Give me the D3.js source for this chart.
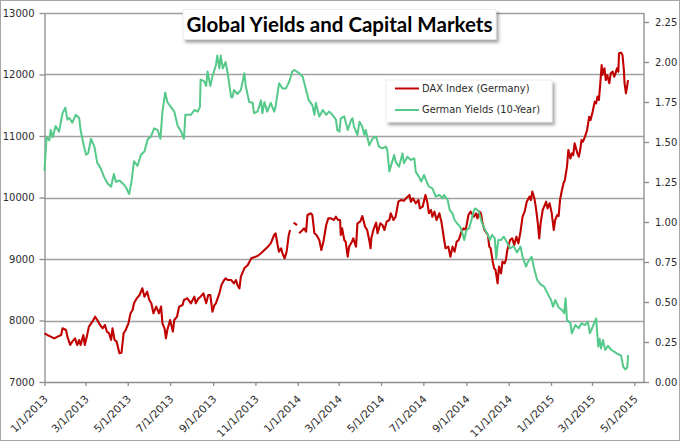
<!DOCTYPE html>
<html><head><meta charset="utf-8">
<script src="https://cdn.jsdelivr.net/npm/d3@7"></script>
<style>body{margin:0;background:#fff}svg{display:block}</style>
</head><body><svg id="c" width="680" height="441"></svg>
<script>
const titleText = "Global Yields and Capital Markets";
const seriesNames = ["DAX Index (Germany)", "German Yields (10-Year)"];
const leftTicks = [7000, 8000, 9000, 10000, 11000, 12000, 13000];
const rightTicks = [0, 0.25, 0.5, 0.75, 1.0, 1.25, 1.5, 1.75, 2.0, 2.25];
const xTickLabels = ["1/1/2013","3/1/2013","5/1/2013","7/1/2013","9/1/2013","11/1/2013","1/1/2014","3/1/2014","5/1/2014","7/1/2014","9/1/2014","11/1/2014","1/1/2015","3/1/2015","5/1/2015"];
const xDomain = ["2013-01-01", "2015-05-15"];

const daxSeries = [
["2013-01-01",7790],["2013-01-05",7765],["2013-01-10",7738],["2013-01-15",7710],["2013-01-20",7738],["2013-01-25",7765],["2013-01-27",7873],["2013-02-01",7846],["2013-02-03",7738],["2013-02-07",7602],["2013-02-10",7656],["2013-02-14",7710],["2013-02-17",7602],["2013-02-20",7683],["2013-02-22",7602],["2013-02-26",7765],["2013-02-28",7602],
["2013-03-03",7738],["2013-03-06",7900],["2013-03-11",7981],["2013-03-15",8062],["2013-03-18",8008],["2013-03-22",7927],["2013-03-26",7873],["2013-03-29",7927],["2013-04-01",7819],["2013-04-04",7792],["2013-04-07",7683],["2013-04-09",7873],["2013-04-12",7683],["2013-04-15",7656],["2013-04-19",7466],["2013-04-22",7477],["2013-04-25",7792],["2013-04-28",7846],
["2013-05-02",7954],["2013-05-05",8117],["2013-05-08",8171],["2013-05-10",8280],["2013-05-14",8361],["2013-05-18",8415],["2013-05-22",8523],["2013-05-25",8388],["2013-05-29",8469],["2013-06-01",8334],["2013-06-04",8280],["2013-06-07",8117],["2013-06-11",8226],["2013-06-15",8117],["2013-06-18",8226],["2013-06-20",7954],["2013-06-23",7873],["2013-06-25",7710],["2013-06-27",7846],
["2013-07-01",8008],["2013-07-05",7819],["2013-07-07",8008],["2013-07-11",8062],["2013-07-14",8226],["2013-07-19",8253],["2013-07-21",8334],["2013-07-26",8361],["2013-07-31",8280],["2013-08-05",8387],["2013-08-07",8279],["2013-08-11",8360],["2013-08-14",8387],["2013-08-18",8441],["2013-08-22",8279],["2013-08-25",8414],["2013-08-28",8414],["2013-08-31",8143],
["2013-09-03",8252],["2013-09-05",8279],["2013-09-10",8441],["2013-09-13",8577],["2013-09-17",8658],["2013-09-19",8685],["2013-09-22",8658],["2013-09-27",8658],["2013-10-01",8604],["2013-10-04",8658],["2013-10-06",8577],["2013-10-09",8523],["2013-10-11",8712],["2013-10-16",8849],["2013-10-21",8902],["2013-10-26",9011],["2013-10-30",9027],
["2013-11-04",9049],["2013-11-09",9093],["2013-11-14",9147],["2013-11-19",9201],["2013-11-23",9255],["2013-11-28",9390],["2013-11-30",9418],["2013-12-03",9228],["2013-12-05",9119],["2013-12-08",9174],["2013-12-10",9093],["2013-12-13",9011],["2013-12-16",9119],["2013-12-19",9390],["2013-12-21",9472],["2013-12-24",null],["2013-12-26",9590],["2013-12-31",9550],["2014-01-01",null],
["2014-01-03",9418],["2014-01-08",9472],["2014-01-10",9499],["2014-01-13",9445],["2014-01-15",9715],["2014-01-20",9743],["2014-01-22",9715],["2014-01-25",9418],["2014-01-28",9390],["2014-02-01",9309],["2014-02-04",9147],["2014-02-07",9282],["2014-02-11",9553],["2014-02-14",9661],["2014-02-18",9661],["2014-02-22",9634],["2014-02-25",9688],["2014-02-28",9634],
["2014-03-03",9634],["2014-03-04",9390],["2014-03-06",9499],["2014-03-09",9309],["2014-03-11",9282],["2014-03-14",9038],["2014-03-16",9201],["2014-03-20",9282],["2014-03-22",9336],["2014-03-26",9201],["2014-03-28",9580],["2014-04-01",9607],["2014-04-04",9699],["2014-04-08",9526],["2014-04-11",9472],["2014-04-14",9309],["2014-04-16",9174],["2014-04-17",9336],["2014-04-20",9472],["2014-04-24",9591],["2014-04-26",9418],["2014-04-30",9580],
["2014-05-03",9553],["2014-05-06",9472],["2014-05-09",9607],["2014-05-13",9634],["2014-05-15",9743],["2014-05-19",9634],["2014-05-22",9688],["2014-05-26",9932],["2014-05-30",9959],["2014-06-03",9948],["2014-06-06",9986],["2014-06-11",10041],["2014-06-13",9932],["2014-06-16",9986],["2014-06-20",9905],["2014-06-24",9959],["2014-06-26",9823],["2014-06-30",9851],
["2014-07-04",10041],["2014-07-07",9905],["2014-07-09",9743],["2014-07-12",9797],["2014-07-14",9688],["2014-07-17",9770],["2014-07-20",9634],["2014-07-24",9743],["2014-07-27",9607],["2014-07-31",9309],["2014-08-02",9174],["2014-08-06",9201],["2014-08-09",9038],["2014-08-12",9201],["2014-08-15",9119],["2014-08-18",9282],["2014-08-21",9309],["2014-08-25",9445],["2014-08-28",9499],["2014-08-31",9472],
["2014-09-04",9715],["2014-09-07",9770],["2014-09-12",9688],["2014-09-15",9743],["2014-09-17",9661],["2014-09-20",9770],["2014-09-22",9743],["2014-09-24",9607],["2014-09-27",9472],["2014-10-02",9391],["2014-10-04",9201],["2014-10-06",9174],["2014-10-09",8956],["2014-10-11",8849],["2014-10-13",8822],["2014-10-16",8605],["2014-10-18",8876],["2014-10-21",8767],["2014-10-23",8957],["2014-10-26",8930],["2014-10-28",8984],["2014-10-30",9147],
["2014-11-03",9309],["2014-11-06",9336],["2014-11-09",9228],["2014-11-12",9363],["2014-11-15",9255],["2014-11-18",9445],["2014-11-21",9688],["2014-11-24",9770],["2014-11-27",9932],["2014-12-01",10014],["2014-12-03",9959],["2014-12-05",10095],["2014-12-08",9986],["2014-12-10",9851],["2014-12-13",9580],["2014-12-15",9336],["2014-12-17",9580],["2014-12-20",9797],["2014-12-22",9851],["2014-12-25",9932],["2014-12-27",9823],["2014-12-30",9905],
["2015-01-02",9743],["2015-01-05",9472],["2015-01-07",9634],["2015-01-10",9715],["2015-01-12",9700],["2015-01-14",9960],["2015-01-16",10080],["2015-01-19",10231],["2015-01-21",10285],["2015-01-24",10501],["2015-01-26",10772],["2015-01-29",10636],["2015-01-31",10718],["2015-02-02",10690],["2015-02-04",10880],["2015-02-08",10718],["2015-02-10",10664],["2015-02-12",10772],["2015-02-14",10935],["2015-02-16",10907],["2015-02-19",10989],["2015-02-22",11098],["2015-02-25",11314],["2015-02-27",11260],
["2015-03-02",11395],["2015-03-03",11450],["2015-03-05",11558],["2015-03-07",11530],["2015-03-09",11640],["2015-03-11",11585],["2015-03-13",11857],["2015-03-15",12154],["2015-03-16",11991],["2015-03-19",12100],["2015-03-21",11910],["2015-03-23",11991],["2015-03-26",11857],["2015-03-28",12018],["2015-03-31",12046],["2015-04-02",11964],["2015-04-04",12018],["2015-04-06",12100],["2015-04-08",12046],["2015-04-09",12344],["2015-04-12",12355],["2015-04-14",12317],["2015-04-16",12073],["2015-04-17",11857],["2015-04-19",11694],["2015-04-21",11830],["2015-04-22",11910]
];

const yieldSeries = [
["2013-01-01",1.32],["2013-01-04",1.53],["2013-01-08",1.51],["2013-01-10",1.575],["2013-01-13",1.53],["2013-01-17",1.60],["2013-01-22",1.565],["2013-01-27",1.68],["2013-01-31",1.715],["2013-02-03",1.64],["2013-02-06",1.65],["2013-02-10",1.62],["2013-02-15",1.67],["2013-02-20",1.65],["2013-02-22",1.575],["2013-02-27",1.47],
["2013-03-02",1.42],["2013-03-05",1.43],["2013-03-09",1.52],["2013-03-14",1.47],["2013-03-18",1.37],["2013-03-23",1.335],["2013-03-28",1.28],["2013-04-02",1.24],["2013-04-07",1.22],["2013-04-11",1.30],["2013-04-14",1.25],["2013-04-19",1.26],["2013-04-24",1.24],["2013-04-28",1.22],
["2013-05-03",1.175],["2013-05-06",1.24],["2013-05-10",1.38],["2013-05-15",1.35],["2013-05-20",1.42],["2013-05-25",1.44],["2013-05-30",1.52],["2013-06-03",1.53],["2013-06-08",1.585],["2013-06-13",1.575],["2013-06-17",1.52],["2013-06-20",1.69],["2013-06-24",1.81],["2013-06-27",1.75],
["2013-07-02",1.72],["2013-07-07",1.69],["2013-07-12",1.60],["2013-07-17",1.565],["2013-07-21",1.52],["2013-07-23",1.67],["2013-07-26",1.67],["2013-07-31",1.67],["2013-08-05",1.70],["2013-08-10",1.69],["2013-08-13",1.72],["2013-08-14",1.89],["2013-08-19",1.88],["2013-08-22",1.85],["2013-08-24",1.94],["2013-08-28",1.85],["2013-08-31",1.91],
["2013-09-05",1.98],["2013-09-07",2.04],["2013-09-10",1.96],["2013-09-12",2.04],["2013-09-15",1.96],["2013-09-19",2.00],["2013-09-22",1.93],["2013-09-27",1.78],["2013-09-29",1.78],["2013-10-01",1.825],["2013-10-06",1.80],["2013-10-11",1.825],["2013-10-16",1.93],["2013-10-18",1.85],["2013-10-23",1.75],["2013-10-28",1.745],["2013-10-30",1.68],
["2013-11-04",1.69],["2013-11-09",1.76],["2013-11-11",1.68],["2013-11-14",1.75],["2013-11-18",1.69],["2013-11-23",1.745],["2013-11-28",1.69],["2013-11-30",1.72],["2013-12-05",1.867],["2013-12-10",1.835],["2013-12-15",1.835],["2013-12-20",1.88],["2013-12-24",1.94],["2013-12-27",1.95],
["2014-01-03",1.93],["2014-01-08",1.91],["2014-01-13",1.825],["2014-01-17",1.76],["2014-01-22",1.73],["2014-01-25",1.67],["2014-01-27",1.745],["2014-02-01",1.66],["2014-02-06",1.70],["2014-02-11",1.67],["2014-02-15",1.69],["2014-02-20",1.67],["2014-02-25",1.64],["2014-02-27",1.575],
["2014-03-02",1.565],["2014-03-04",1.648],["2014-03-09",1.66],["2014-03-14",1.575],["2014-03-19",1.638],["2014-03-21",1.648],["2014-03-23",1.596],["2014-03-28",1.544],["2014-03-31",1.627],["2014-04-04",1.596],["2014-04-07",1.544],["2014-04-09",1.575],["2014-04-14",1.48],["2014-04-19",1.523],["2014-04-24",1.533],["2014-04-28",1.471],
["2014-05-03",1.46],["2014-05-08",1.471],["2014-05-10",1.45],["2014-05-13",1.315],["2014-05-15",1.346],["2014-05-20",1.419],["2014-05-22",1.377],["2014-05-27",1.346],["2014-06-01",1.429],["2014-06-03",1.367],["2014-06-08",1.408],["2014-06-13",1.388],["2014-06-18",1.398],["2014-06-20",1.315],["2014-06-25",1.28],["2014-06-28",1.252],
["2014-07-02",1.294],["2014-07-05",1.26],["2014-07-09",1.221],["2014-07-14",1.21],["2014-07-19",1.158],["2014-07-24",1.169],["2014-07-29",1.148],["2014-07-31",1.169],["2014-08-05",1.1375],["2014-08-08",1.075],["2014-08-12",1.054],["2014-08-15",1.0125],["2014-08-19",0.99],["2014-08-23",0.97],["2014-08-25",0.95],["2014-08-29",0.8875],
["2014-09-01",0.95],["2014-09-05",0.96],["2014-09-09",1.023],["2014-09-12",1.075],["2014-09-14",1.085],["2014-09-19",1.065],["2014-09-23",1.0],["2014-09-28",0.95],["2014-10-01",0.93],["2014-10-05",0.8875],["2014-10-08",0.92],["2014-10-12",0.898],["2014-10-14",0.773],["2014-10-17",0.8875],["2014-10-21",0.8875],["2014-10-25",0.908],["2014-10-29",0.877],
["2014-11-03",0.835],["2014-11-08",0.85],["2014-11-13",0.81],["2014-11-18",0.846],["2014-11-21",0.783],["2014-11-26",0.721],["2014-11-29",0.752],["2014-12-04",0.783],["2014-12-07",0.721],["2014-12-12",0.6375],["2014-12-17",0.61],["2014-12-22",0.596],["2014-12-27",0.554],
["2015-01-01",0.5125],["2015-01-04",0.47],["2015-01-07",0.5125],["2015-01-12",0.466],["2015-01-17",0.45],["2015-01-20",0.43],["2015-01-22",0.523],["2015-01-24",0.3875],["2015-01-29",0.367],["2015-01-31",0.304],["2015-02-05",0.356],["2015-02-10",0.336],["2015-02-14",0.367],["2015-02-19",0.356],["2015-02-23",0.377],["2015-02-26",0.304],
["2015-03-03",0.356],["2015-03-07",0.398],["2015-03-10",0.221],["2015-03-12",0.27],["2015-03-14",0.21],["2015-03-17",0.263],["2015-03-20",0.2],["2015-03-24",0.226],["2015-03-29",0.2],["2015-04-02",0.19],["2015-04-07",0.175],["2015-04-12",0.165],["2015-04-15",0.096],["2015-04-18",0.078],["2015-04-21",0.09],["2015-04-22",0.169]
];

const colors = {dax: "#C00000", yld: "#55C98A", grid: "#A0A0A0", axis: "#8C8C8C", text: "#2B2B2B"};
const FONT = "'DejaVu Sans', Verdana, sans-serif";

const svg = d3.select("#c");
const parseISO = d3.timeParse("%Y-%m-%d");
const parseLabel = d3.timeParse("%m/%d/%Y");

const plot = {left: 44.5, right: 644, top: 13, bottom: 382};

const x = d3.scaleTime().domain(xDomain.map(parseISO)).range([plot.left, plot.right]);
const yL = d3.scaleLinear().domain([7000, 13000]).range([plot.bottom, plot.top]);
const yR = d3.scaleLinear().domain([0, 2.25]).range([plot.bottom, 22]);

const defs = svg.append("defs");
const f = defs.append("filter").attr("id", "sh").attr("x", "-10%").attr("y", "-30%").attr("width", "130%").attr("height", "180%");
f.append("feDropShadow").attr("dx", 2.5).attr("dy", 3).attr("stdDeviation", 1.8).attr("flood-color", "#000").attr("flood-opacity", 0.35);

svg.append("rect").attr("width", 680).attr("height", 441).attr("fill", "#fff");
svg.append("rect").attr("x", 0.5).attr("y", 0.5).attr("width", 679).attr("height", 440)
  .attr("fill", "none").attr("stroke", "#A6A6A6");

// gridlines
svg.append("g").selectAll("line").data(leftTicks.slice(1)).join("line")
  .attr("x1", plot.left).attr("x2", plot.right)
  .attr("y1", d => Math.round(yL(d)) + 0.5).attr("y2", d => Math.round(yL(d)) + 0.5)
  .attr("stroke", colors.grid).attr("stroke-width", 1.3);

function styleAxis(g, size) {
  g.selectAll("path.domain").attr("stroke", colors.axis).attr("stroke-width", 1.3);
  g.selectAll(".tick line").attr("stroke", colors.axis).attr("stroke-width", 1.3);
  g.selectAll("text").attr("fill", colors.text).style("font-family", FONT).style("font-size", size || "10px");
}

// left axis
const gL = svg.append("g").attr("transform", `translate(${plot.left},0)`)
  .call(d3.axisLeft(yL).tickValues(leftTicks).tickFormat(d3.format("d")).tickSize(5).tickPadding(5).tickSizeOuter(0));
styleAxis(gL);

// right axis
const gR = svg.append("g").attr("transform", `translate(${plot.right},0)`)
  .call(d3.axisRight(yR).tickValues(rightTicks).tickFormat(d3.format(".2f")).tickSize(5).tickPadding(6).tickSizeOuter(0));
gR.select("path.domain").remove();
gR.append("line").attr("class", "rline").attr("x1", 0).attr("x2", 0).attr("y1", plot.top).attr("y2", plot.bottom)
  .attr("stroke", colors.axis).attr("stroke-width", 1.3);
styleAxis(gR);

// bottom axis
const gX = svg.append("g").attr("transform", `translate(0,${plot.bottom})`)
  .call(d3.axisBottom(x).tickValues(xTickLabels.map(parseLabel)).tickFormat((d, i) => xTickLabels[i]).tickSize(4).tickSizeOuter(0));
styleAxis(gX, "10.6px");
gX.selectAll(".tick text")
  .attr("x", 0).attr("y", 0).attr("dy", "0.35em")
  .attr("text-anchor", "end")
  .attr("transform", "translate(1,15) rotate(-45)");

// series
const daxData = daxSeries.map(d => ({date: parseISO(d[0]), v: d[1]}));
const yldData = yieldSeries.map(d => ({date: parseISO(d[0]), v: d[1]}));

const lineL = d3.line().defined(d => d.v !== null).x(d => x(d.date)).y(d => yL(d.v));
const lineR = d3.line().defined(d => d.v !== null).x(d => x(d.date)).y(d => yR(d.v));

svg.append("path").datum(daxData).attr("d", lineL)
  .attr("fill", "none").attr("stroke", colors.dax).attr("stroke-width", 2.1).attr("stroke-linejoin", "round");
svg.append("path").datum(yldData).attr("d", lineR)
  .attr("fill", "none").attr("stroke", colors.yld).attr("stroke-width", 2).attr("stroke-linejoin", "round");

// title
const tg = svg.append("g");
tg.append("rect").attr("x", 183).attr("y", 9.5).attr("width", 313).attr("height", 30)
  .attr("fill", "#fff").attr("stroke", "#E0E0E0").attr("stroke-width", 0.6).attr("filter", "url(#sh)");
tg.append("text").attr("x", 339.5).attr("y", 31.5).attr("text-anchor", "middle")
  .style("font-family", "Lato, 'Open Sans', sans-serif").style("font-weight", "bold").style("font-size", "21px")
  .attr("textLength", 306).attr("lengthAdjust", "spacingAndGlyphs")
  .attr("fill", "#000").text(titleText);

// legend
const lg = svg.append("g");
lg.append("rect").attr("x", 386).attr("y", 80).attr("width", 166).attr("height", 42)
  .attr("fill", "#fff").attr("stroke", "#E0E0E0").attr("stroke-width", 0.6).attr("filter", "url(#sh)");
const legendItems = [{name: seriesNames[0], color: colors.dax, y: 88.5}, {name: seriesNames[1], color: colors.yld, y: 110}];
legendItems.forEach(it => {
  lg.append("line").attr("x1", 395).attr("x2", 419).attr("y1", it.y).attr("y2", it.y)
    .attr("stroke", it.color).attr("stroke-width", 2);
  lg.append("text").attr("x", 422).attr("y", it.y).attr("dy", "0.35em")
    .style("font-family", FONT).style("font-size", "9.9px").attr("fill", colors.text).text(it.name);
});
</script>
</body></html>
